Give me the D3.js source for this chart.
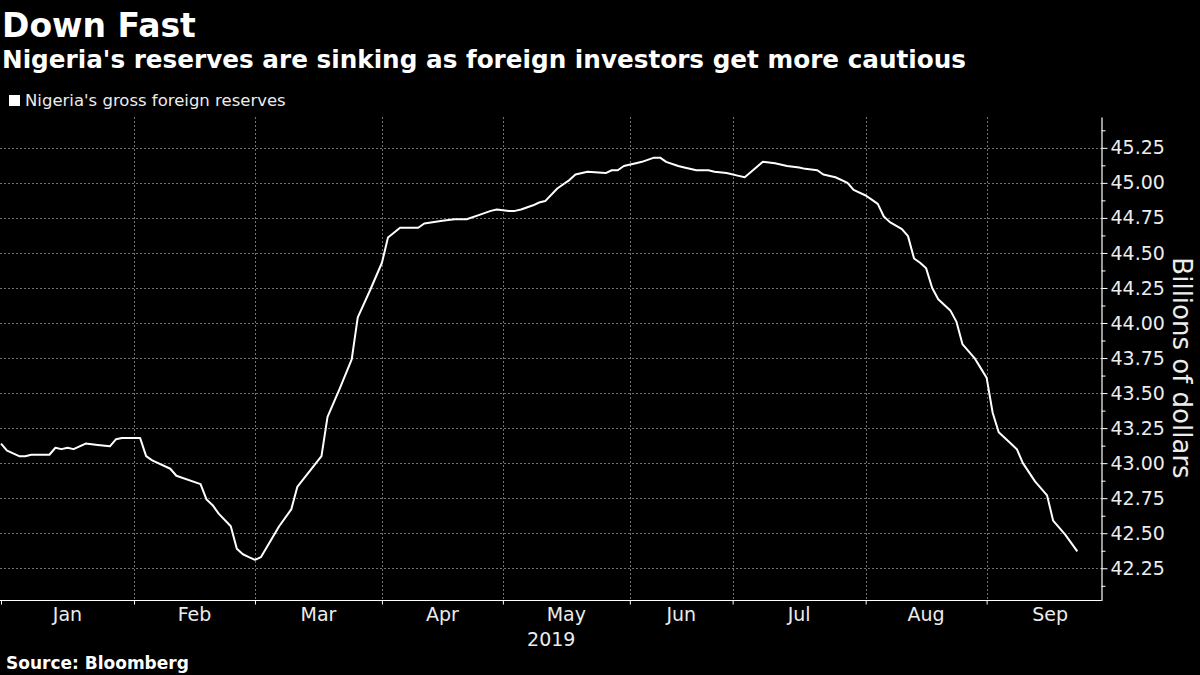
<!DOCTYPE html>
<html>
<head>
<meta charset="utf-8">
<script src="https://cdn.jsdelivr.net/npm/d3@7"></script>
<style>
  html, body { margin: 0; padding: 0; background: #000; }
  svg { display: block; }
</style>
</head>
<body>
<script>
// ---- Data (trading-day observation number since Jan 2, 2019, and reserves in $bn) ----
const obs = [0,1,3,4,5,8,9,10,11,12,14,16,18,19,20,23,24,25,28,29,33,34,35,36,38,39,40,41,42,43,46,48,49,53,54,56,58,59,61,63,64,66,69,70,73,75,77,79,81,82,84,85,86,88,89,90,92,93,94,95,97,100,101,102,103,105,106,108,109,110,112,113,115,117,118,120,122,123,126,128,130,132,133,135,136,138,140,141,143,144,145,146,147,149,150,151,152,153,154,155,157,158,159,161,162,163,164,165,167,168,169,171,173,174,176,178];
const reserves = [43.14,43.09,43.05,43.05,43.06,43.06,43.11,43.10,43.11,43.10,43.14,43.13,43.12,43.17,43.18,43.18,43.05,43.02,42.96,42.91,42.85,42.74,42.70,42.64,42.55,42.39,42.35,42.33,42.31,42.33,42.55,42.67,42.83,43.05,43.33,43.53,43.74,44.04,44.23,44.43,44.61,44.68,44.68,44.71,44.73,44.74,44.74,44.77,44.80,44.81,44.80,44.80,44.81,44.84,44.86,44.87,44.96,44.99,45.02,45.06,45.08,45.07,45.09,45.09,45.12,45.14,45.15,45.18,45.18,45.15,45.12,45.11,45.09,45.09,45.08,45.07,45.05,45.04,45.15,45.14,45.12,45.11,45.10,45.09,45.06,45.04,45.00,44.95,44.91,44.88,44.85,44.76,44.72,44.67,44.62,44.46,44.43,44.39,44.25,44.17,44.09,44.01,43.85,43.75,43.68,43.61,43.36,43.22,43.14,43.10,43.00,42.87,42.77,42.59,42.49,42.37];

// first observation of each month (last entry = start of October)
const monthStarts = [0,22,42,63,83,104,121,143,163,184];
const monthLabels = ["Jan","Feb","Mar","Apr","May","Jun","Jul","Aug","Sep"];
const yearLabel = "2019";

const yTicks = [42.25,42.50,42.75,43.00,43.25,43.50,43.75,44.00,44.25,44.50,44.75,45.00,45.25];
const yMinorTicks = [42.125,42.375,42.625,42.875,43.125,43.375,43.625,43.875,44.125,44.375,44.625,44.875,45.125,45.375];
const xDomain = [0, 182];
const yDomain = [42.02, 45.47];

const title = "Down Fast";
const subtitle = "Nigeria's reserves are sinking as foreign investors get more cautious";
const legendLabel = "Nigeria's gross foreign reserves";
const yAxisTitle = "Billions of dollars";
const source = "Source: Bloomberg";

// ---- Layout ----
const W = 1200, H = 675;
const plot = { left: 1, right: 1101.5, top: 117, bottom: 600.5 };

const svg = d3.select("body").append("svg")
  .attr("width", W).attr("height", H)
  .style("background", "#000");

const x = d3.scaleLinear().domain(xDomain).range([plot.left, plot.right]);
const y = d3.scaleLinear().domain(yDomain).range([plot.bottom, plot.top]);

const gridColor = "#707070";
const textColor = "#ececec";
const fontReg = "'DejaVu Sans', sans-serif";

// horizontal gridlines
svg.append("g").selectAll("line").data(yTicks).join("line")
  .attr("x1", 0).attr("x2", plot.right)
  .attr("y1", d => Math.round(y(d)) + 0.5).attr("y2", d => Math.round(y(d)) + 0.5)
  .attr("stroke", gridColor).attr("stroke-width", 1).attr("stroke-dasharray", "2,2");

// vertical gridlines at month starts (skip first)
svg.append("g").selectAll("line").data(monthStarts.slice(1, monthLabels.length)).join("line")
  .attr("x1", d => Math.round(x(d)) + 0.5).attr("x2", d => Math.round(x(d)) + 0.5)
  .attr("y1", plot.top).attr("y2", plot.bottom)
  .attr("stroke", gridColor).attr("stroke-width", 1).attr("stroke-dasharray", "2,2");

// x axis
const xAxis = d3.axisBottom(x)
  .tickValues(monthStarts.slice(0, monthLabels.length))
  .tickSize(4).tickSizeOuter(0).tickFormat("");
const gx = svg.append("g").attr("transform", `translate(0,${plot.bottom})`).call(xAxis);
gx.select(".domain").attr("stroke", "#fff").attr("stroke-width", 1.2).attr("d", `M0,0H${plot.right}`);
gx.selectAll(".tick line").attr("stroke", "#fff");

// month labels centered in each month span
svg.append("g").selectAll("text").data(monthLabels).join("text")
  .attr("x", (d, i) => (x(monthStarts[i]) + x(monthStarts[i + 1])) / 2)
  .attr("y", 621)
  .attr("text-anchor", "middle")
  .attr("fill", textColor)
  .style("font-family", fontReg).style("font-size", "19px")
  .text(d => d);

svg.append("text")
  .attr("x", (plot.left + plot.right) / 2).attr("y", 646)
  .attr("text-anchor", "middle").attr("fill", textColor)
  .style("font-family", fontReg).style("font-size", "19px")
  .text(yearLabel);

// y axis (right)
const yAxis = d3.axisRight(y).tickValues(yTicks).tickSize(6).tickSizeOuter(0)
  .tickPadding(3).tickFormat(d3.format(".2f"));
const gy = svg.append("g").attr("transform", `translate(${plot.right},0)`).call(yAxis);
gy.select(".domain").attr("stroke", "#fff").attr("stroke-width", 1.2);
gy.selectAll(".tick line").attr("stroke", "#fff");
gy.selectAll(".tick text").attr("fill", textColor)
  .style("font-family", fontReg).style("font-size", "19px");

const yMinor = d3.axisRight(y).tickValues(yMinorTicks).tickSize(4).tickSizeOuter(0).tickFormat("");
const gym = svg.append("g").attr("transform", `translate(${plot.right},0)`).call(yMinor);
gym.select(".domain").remove();
gym.selectAll(".tick line").attr("stroke", "#fff");

// y axis title
svg.append("text")
  .attr("transform", `translate(1173,368) rotate(90)`)
  .attr("text-anchor", "middle").attr("fill", textColor)
  .style("font-family", fontReg).style("font-size", "26px")
  .text(yAxisTitle);

// line
const line = d3.line()
  .x((d, i) => x(obs[i]))
  .y(d => y(d));
svg.append("path")
  .datum(reserves)
  .attr("d", line)
  .attr("fill", "none")
  .attr("stroke", "#fff")
  .attr("stroke-width", 2)
  .attr("stroke-linejoin", "round");

// titles
svg.append("text").attr("x", 2).attr("y", 37)
  .attr("fill", "#fff")
  .style("font-family", fontReg).style("font-weight", "bold").style("font-size", "33px")
  .text(title);
svg.append("text").attr("x", 2).attr("y", 68)
  .attr("fill", "#fff")
  .style("font-family", fontReg).style("font-weight", "bold").style("font-size", "24.7px")
  .text(subtitle);

// legend
svg.append("rect").attr("x", 9).attr("y", 95).attr("width", 11).attr("height", 11).attr("fill", "#fff");
svg.append("text").attr("x", 25).attr("y", 106)
  .attr("fill", textColor)
  .style("font-family", fontReg).style("font-size", "16.5px")
  .text(legendLabel);

// source
svg.append("text").attr("x", 6).attr("y", 669)
  .attr("fill", "#fff")
  .style("font-family", fontReg).style("font-weight", "bold").style("font-size", "17px")
  .text(source);
</script>
</body>
</html>
